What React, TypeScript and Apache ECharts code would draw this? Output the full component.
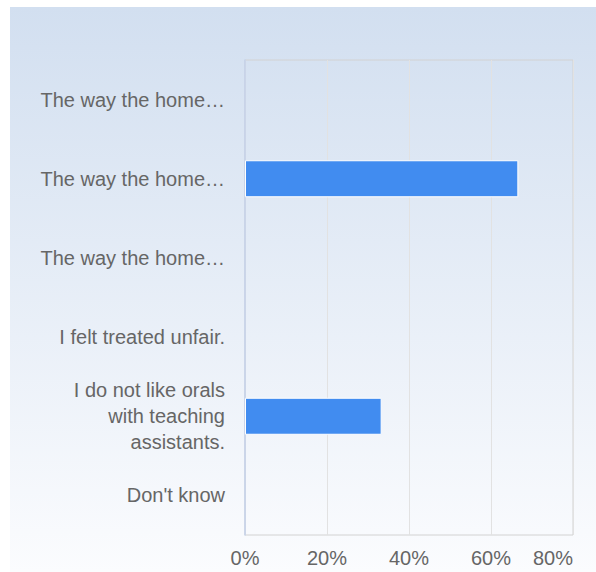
import React, { useEffect, useRef } from "react";
import * as echarts from "echarts";

const categories = [
  "The way the home…",
  "The way the home…",
  "The way the home…",
  "I felt treated unfair.",
  "I do not like orals\nwith teaching\nassistants.",
  "Don't know",
];
const percentValues = [0, 66.67, 0, 0, 33.33, 0];
const xTicks = { min: 0, max: 80, interval: 20 };

export default function App() {
  const ref = useRef<HTMLDivElement>(null);
  useEffect(() => {
    if (!ref.current) return;
    const chart = echarts.init(ref.current, undefined, { renderer: "svg" });
    const font = "'Liberation Sans', Arial, sans-serif";
    chart.setOption({
      animation: false,
      graphic: [
        {
          type: "rect",
          z: -10,
          silent: true,
          shape: { x: 10, y: 7, width: 586, height: 565 },
          style: {
            fill: new echarts.graphic.LinearGradient(0, 0, 0, 1, [
              { offset: 0, color: "#d2dff0" },
              { offset: 1, color: "#fbfcfe" },
            ]),
          },
        },
      ],
      grid: {
        left: 245,
        right: 23,
        top: 60,
        bottom: 37,
        show: true,
        borderColor: "#d2d2d2",
        borderWidth: 1,
        backgroundColor: "transparent",
      },
      xAxis: {
        type: "value",
        min: xTicks.min,
        max: xTicks.max,
        interval: xTicks.interval,
        axisLine: { show: false },
        axisTick: { show: false },
        splitLine: { show: true, lineStyle: { color: "#e2e2e2", width: 1 } },
        axisLabel: {
          formatter: "{value}%",
          color: "#666",
          fontSize: 20,
          fontFamily: font,
          margin: 13,
          alignMaxLabel: "right",
        },
      },
      yAxis: {
        type: "category",
        inverse: true,
        data: categories,
        axisLine: { show: true, lineStyle: { color: "#c3d1ea", width: 1.5 } },
        axisTick: { show: false },
        splitLine: { show: false },
        axisLabel: {
          color: "#666",
          fontSize: 20,
          fontFamily: font,
          margin: 20,
          lineHeight: 26,
          align: "right",
        },
      },
      series: [
        {
          type: "bar",
          data: percentValues.map((v) => (v === 0 ? null : v)),
          barWidth: 37,
          itemStyle: { color: "#418cf0", borderColor: "#ffffff", borderWidth: 1 },
        },
      ],
    });
    return () => chart.dispose();
  }, []);
  return (
    <div
      ref={ref}
      style={{ position: "absolute", left: 0, top: 0, width: 596, height: 572 }}
    />
  );
}
